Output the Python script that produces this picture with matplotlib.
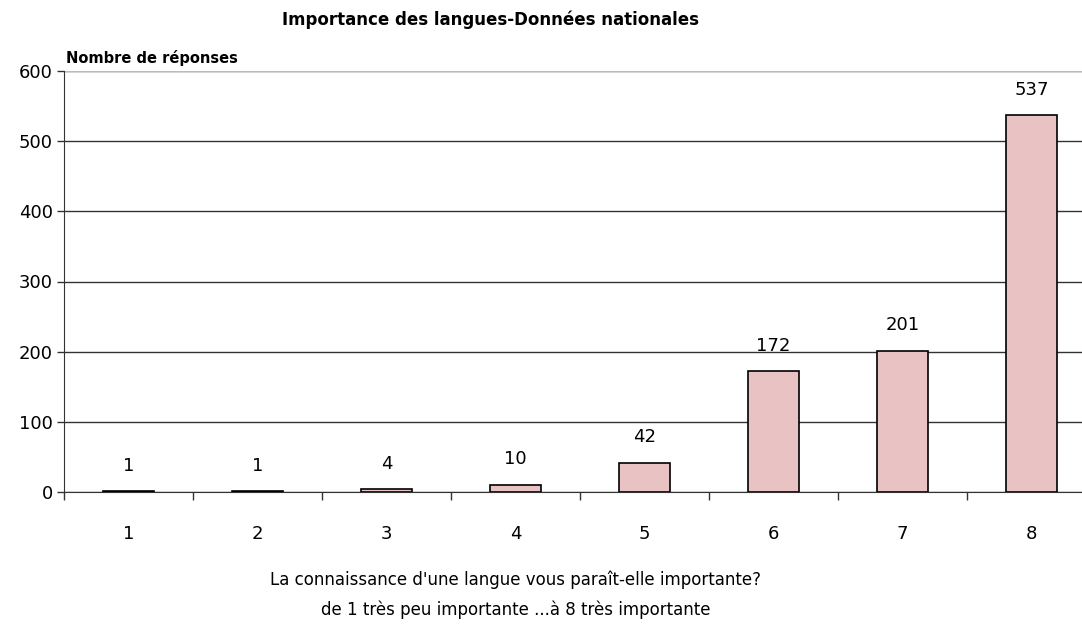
import matplotlib.pyplot as plt
import numpy as np

# data
categories = ['1', '2', '3', '4', '5', '6', '7', '8']
reponses = [1, 1, 4, 10, 42, 172, 201, 537]
yticks = [0, 100, 200, 300, 400, 500, 600]

fig = plt.figure(figsize=(10.82, 6.26), dpi=100)
# axes goes a bit past the right edge, like the original
ax = fig.add_axes([64/1082, 1 - 492/626, 1032/1082, 421/626])

x = np.arange(len(categories))
bars = ax.bar(x, reponses, width=0.4, color='#e9c3c3', edgecolor='black', linewidth=1.2, zorder=3)

for xi, v in zip(x, reponses):
    ax.annotate(str(v), (xi, v), xytext=(0, 12), textcoords='offset points',
                ha='center', va='bottom', fontsize=13)

ax.set_xlim(-0.5, len(categories) - 0.5)
ax.set_ylim(0, 600)
ax.set_yticks(yticks)
ax.set_yticklabels([str(t) for t in yticks], fontsize=13)
ax.yaxis.grid(True, color='#333333', linewidth=1, zorder=0)
ax.set_axisbelow(True)

# category labels in the middle, tick marks on the boundaries
ax.set_xticks(x)
ax.set_xticklabels(categories, fontsize=13)
ax.tick_params(axis='x', length=0, pad=24)
ax.set_xticks(np.arange(len(categories) + 1) - 0.5, minor=True)
ax.tick_params(axis='x', which='minor', length=6, width=1, color='#333333')
ax.tick_params(axis='y', length=5, width=1, color='#333333', pad=3)

for s in ['top', 'right']:
    ax.spines[s].set_visible(False)
ax.spines['left'].set_color('#333333')
ax.spines['bottom'].set_color('#333333')
ax.axhline(600, color='#bbbbbb', linewidth=1.5, zorder=1)

fig.text(490/1082, 1 - 20/626, 'Importance des langues-Données nationales',
         ha='center', va='center', fontsize=12, fontweight='bold')
fig.text(66/1082, 1 - 58/626, 'Nombre de réponses', ha='left', va='center',
         fontsize=10.5, fontweight='bold')
fig.text(516/1082, 1 - 580/626, "La connaissance d'une langue vous paraît-elle importante?",
         ha='center', va='center', fontsize=12)
fig.text(516/1082, 1 - 610/626, 'de 1 très peu importante ...à 8 très importante',
         ha='center', va='center', fontsize=12)

plt.savefig('out.png', dpi=100)
